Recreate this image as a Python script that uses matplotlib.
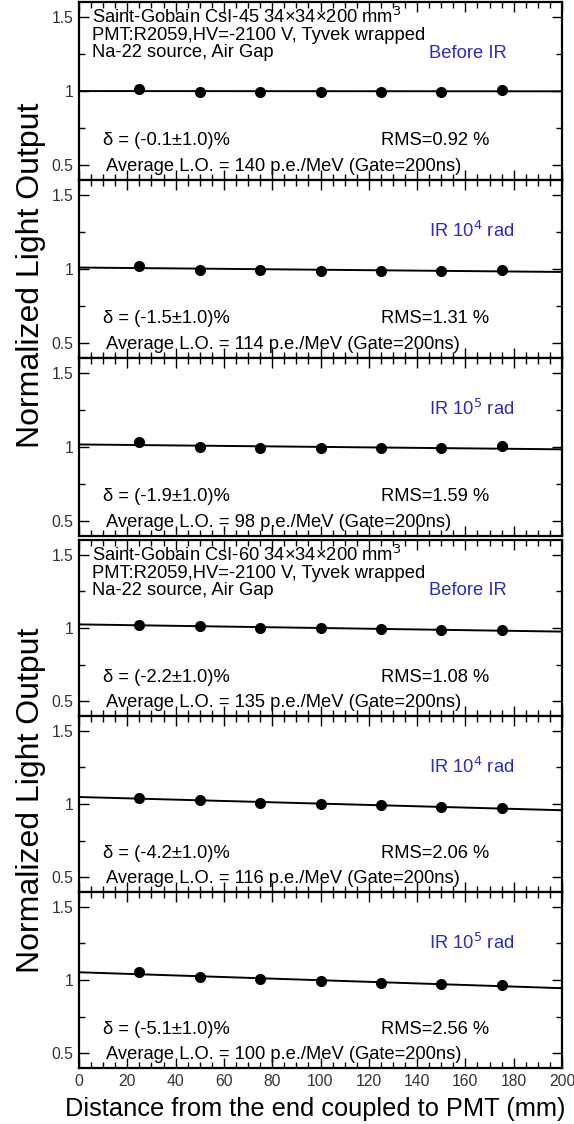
import numpy as np
import matplotlib.pyplot as plt

plt.rcParams['font.family'] = ['Liberation Sans', 'DejaVu Sans']

# positions along the crystal (mm)
positions = [25, 50, 75, 100, 125, 150, 175]

# normalized light output, CsI-45 then CsI-60, before IR / 1e4 rad / 1e5 rad
lo_csi45_before = [1.014, 0.993, 0.992, 0.993, 0.994, 0.995, 1.010]
lo_csi45_ir4 = [1.020, 0.996, 0.995, 0.987, 0.986, 0.986, 0.995]
lo_csi45_ir5 = [1.035, 1.000, 0.995, 0.990, 0.990, 0.990, 1.005]
lo_csi60_before = [1.022, 1.012, 1.003, 0.998, 0.993, 0.988, 0.984]
lo_csi60_ir4 = [1.042, 1.025, 1.010, 0.997, 0.990, 0.982, 0.972]
lo_csi60_ir5 = [1.052, 1.022, 1.005, 0.990, 0.980, 0.975, 0.965]

series = [lo_csi45_before, lo_csi45_ir4, lo_csi45_ir5,
          lo_csi60_before, lo_csi60_ir4, lo_csi60_ir5]
conditions = ['Before IR', 'IR 10$^4$ rad', 'IR 10$^5$ rad'] * 2
deltas = ['-0.1', '-1.5', '-1.9', '-2.2', '-4.2', '-5.1']
rms = ['0.92', '1.31', '1.59', '1.08', '2.06', '2.56']
avg_lo = ['140', '114', '98', '135', '116', '100']
crystals = ['Saint-Gobain CsI-45 34\u00d734\u00d7200 mm$^3$',
            'Saint-Gobain CsI-60 34\u00d734\u00d7200 mm$^3$']

W, H = 574, 1124
fig = plt.figure(figsize=(W / 100, H / 100), dpi=100)

# panel extents in pixels from the top
rows = [(2, 180), (180, 358), (358, 536), (540, 716), (716, 892), (892, 1068)]
x0, x1 = 79, 562
fs = 13.2

for i, (top, bot) in enumerate(rows):
    ax = fig.add_axes([x0 / W, 1 - bot / H, (x1 - x0) / W, (bot - top) / H])
    vals = series[i]

    # straight-line fit across the whole crystal
    fit = np.polyfit(positions, vals, 1)
    xx = np.array([0, 200])
    ax.plot(xx, np.polyval(fit, xx), color='black', lw=1.4, zorder=2)
    ax.plot(positions, vals, 'o', color='black', ms=7, zorder=3)

    ax.set_xlim(0, 200)
    ax.set_ylim(0.4, 1.6)
    ax.set_xticks(np.arange(0, 201, 20))
    ax.set_xticks(np.arange(0, 201, 5), minor=True)
    ax.set_yticks([0.5, 1, 1.5])
    ax.set_yticklabels(['0.5', '1', '1.5'])
    ax.set_yticks([0.75, 1.25], minor=True)
    ax.tick_params(which='both', direction='in', top=True, right=True,
                   labelsize=11.3, labelcolor='#333333', pad=4)
    ax.tick_params(which='major', length=7, width=1)
    ax.tick_params(which='minor', length=4, width=1)
    for s in ax.spines.values():
        s.set_linewidth(1.6)
    if i != 5:
        ax.tick_params(labelbottom=False)

    if i % 3 == 0:
        ax.text(5.5, 1.565, crystals[i // 3] + '\nPMT:R2059,HV=-2100 V, Tyvek wrapped'
                '\nNa-22 source, Air Gap', fontsize=fs, va='top', ha='left',
                linespacing=1.0)
    ax.text(145, 1.256, conditions[i], color='#2b2bb5', fontsize=fs,
            ha='left', va='center')
    ax.text(10, 0.665, '\u03b4 = (' + deltas[i] + '\u00b11.0)%', fontsize=fs,
            ha='left', va='center')
    ax.text(125, 0.665, 'RMS=' + rms[i] + ' %', fontsize=fs,
            ha='left', va='center')
    ax.text(11, 0.49, 'Average L.O. = ' + avg_lo[i] + ' p.e./MeV (Gate=200ns)',
            fontsize=fs, ha='left', va='center')

    if i == 5:
        ax.set_xlabel('Distance from the end coupled to PMT (mm)', fontsize=18.3)
        ax.xaxis.set_label_coords(0.49, -0.165)

fig.text(31 / W, 1 - 275 / H, 'Normalized Light Output', rotation=90,
         fontsize=23, ha='center', va='center')
fig.text(31 / W, 1 - 800 / H, 'Normalized Light Output', rotation=90,
         fontsize=23, ha='center', va='center')

fig.savefig('out.png', dpi=100)
